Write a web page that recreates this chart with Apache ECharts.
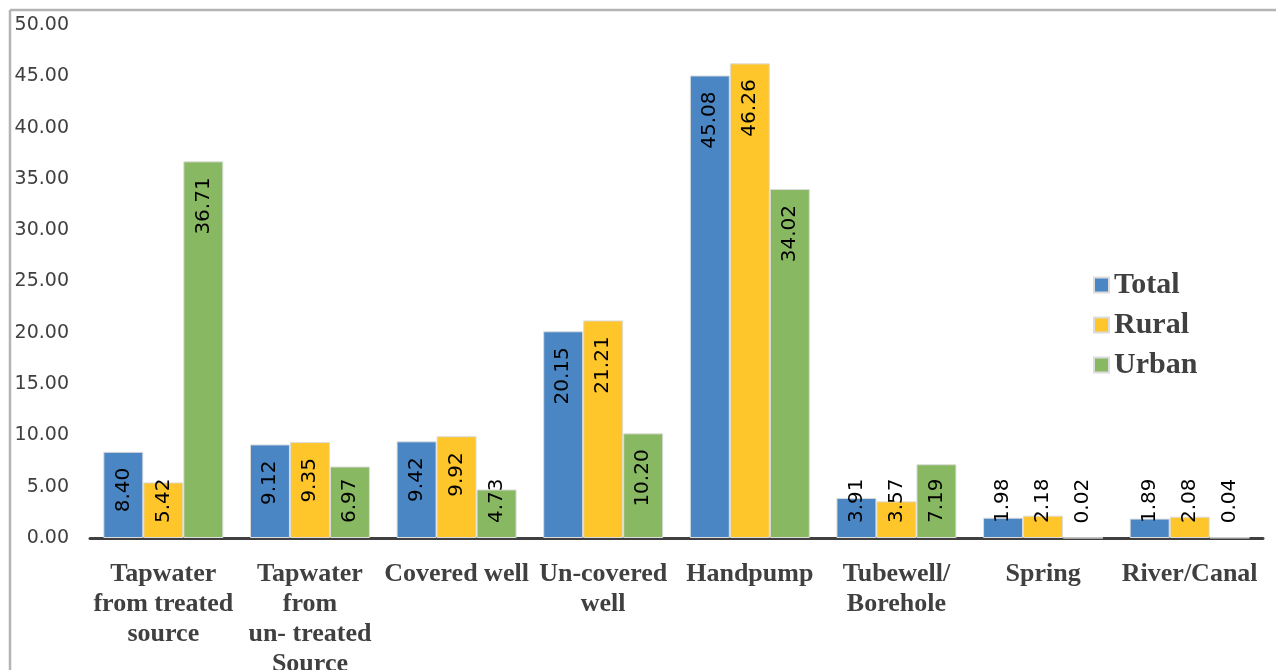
<!DOCTYPE html>
<html>
<head>
<meta charset="utf-8">
<script src="https://cdn.jsdelivr.net/npm/echarts@6/dist/echarts.min.js"></script>
<style>
  html, body { margin: 0; padding: 0; background: #fff; }
  #chart { width: 1276px; height: 670px; }
</style>
</head>
<body>
<div id="chart"></div>
<script>
// Source of drinking water (%)
const categories = [
  'Tapwater\nfrom treated\nsource',
  'Tapwater\nfrom\nun- treated\nSource',
  'Covered well',
  'Un-covered\nwell',
  'Handpump',
  'Tubewell/\nBorehole',
  'Spring',
  'River/Canal'
];
const totalValues = [8.40, 9.12, 9.42, 20.15, 45.08, 3.91, 1.98, 1.89];
const ruralValues = [5.42, 9.35, 9.92, 21.21, 46.26, 3.57, 2.18, 2.08];
const urbanValues = [36.71, 6.97, 4.73, 10.20, 34.02, 7.19, 0.02, 0.04];
const yTicks = { min: 0, max: 50, interval: 5 };

const seriesColors = ['#4a86c4', '#fec62b', '#88b962'];
const SHORT_BAR = 7.5; // below this, the value label sits near the base

const labelFont = {
  fontFamily: 'DejaVu Sans',
  fontSize: 20,
  color: '#000'
};

function withLabels(values) {
  return values.map(v => {
    const shortBar = v < SHORT_BAR;
    return {
      value: v,
      label: Object.assign({
        show: true,
        rotate: 90,
        position: shortBar ? 'insideBottom' : 'insideTop',
        distance: shortBar ? 15 : 16,
        align: shortBar ? 'left' : 'right',
        verticalAlign: 'middle',
        formatter: p => p.value.toFixed(2)
      }, labelFont)
    };
  });
}

function barSeries(name, values, color) {
  return {
    name: name,
    type: 'bar',
    barWidth: 40,
    barGap: '0%',
    itemStyle: { color: color, borderColor: '#dcdcdc', borderWidth: 1 },
    data: withLabels(values)
  };
}

const chart = echarts.init(document.getElementById('chart'), null, { renderer: 'canvas' });
chart.setOption({
  animation: false,
  backgroundColor: '#fff',
  grid: { left: 90, right: 13, top: 25, bottom: 132, containLabel: false, outerBoundsMode: 'none' },
  legend: {
    orient: 'vertical',
    left: 1088,
    top: 265,
    itemWidth: 15,
    itemHeight: 15,
    itemGap: 10,
    icon: 'rect',
    textStyle: {
      fontFamily: 'Liberation Serif',
      fontWeight: 'bold',
      fontSize: 30,
      lineHeight: 30,
      color: '#404040'
    },
    data: ['Total', 'Rural', 'Urban']
  },
  xAxis: {
    type: 'category',
    data: categories,
    axisLine: { show: true, lineStyle: { color: '#404040', width: 3 } },
    axisTick: { show: false },
    axisLabel: {
      interval: 0,
      margin: 21,
      fontFamily: 'Liberation Serif',
      fontWeight: 'bold',
      fontSize: 26,
      lineHeight: 30,
      color: '#404040'
    }
  },
  yAxis: {
    type: 'value',
    min: yTicks.min,
    max: yTicks.max,
    interval: yTicks.interval,
    axisLine: { show: false },
    axisTick: { show: false },
    splitLine: { show: false },
    axisLabel: {
      margin: 21,
      fontFamily: 'DejaVu Sans',
      fontSize: 19,
      color: '#404040',
      formatter: v => v.toFixed(2)
    }
  },
  graphic: [
    { type: 'line', shape: { x1: 10, y1: 10, x2: 1276, y2: 10 }, style: { stroke: '#b4b4b4', lineWidth: 2.5 } },
    { type: 'line', shape: { x1: 10, y1: 10, x2: 10, y2: 670 }, style: { stroke: '#b4b4b4', lineWidth: 2.5 } }
  ],
  series: [
    barSeries('Total', totalValues, seriesColors[0]),
    barSeries('Rural', ruralValues, seriesColors[1]),
    barSeries('Urban', urbanValues, seriesColors[2])
  ]
});
</script>
</body>
</html>
